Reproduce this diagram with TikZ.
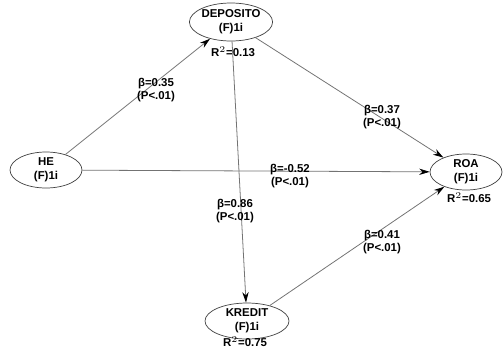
\documentclass[tikz,border=0pt]{standalone}
\usepackage{fontspec}
\setmainfont{Liberation Sans}
\usetikzlibrary{shapes.geometric,arrows.meta}
\tikzset{
  latent/.style={draw=black!75,ellipse,inner sep=0pt,align=center,font=\fontsize{6.5}{8}\selectfont\bfseries},
  path/.style={draw=black!55,line width=0.45pt,-{Stealth[length=6pt,width=3.6pt,black]}},
  coef/.style={align=center,font=\fontsize{6.5}{7.5}\selectfont\bfseries},
  rsq/.style={font=\fontsize{6.5}{7.5}\selectfont\bfseries}
}
\begin{document}
\begin{tikzpicture}[x=0.02cm,y=-0.02cm]
\useasboundingbox (0,0) rectangle (503,349);
\node[latent,minimum width=1.56cm,minimum height=0.76cm](DEP) at(231,22){DEPOSITO\\(F)1i};
\node[latent,minimum width=1.44cm,minimum height=0.72cm](HE) at(46,170){HE\\(F)1i};
\node[latent,minimum width=1.44cm,minimum height=0.72cm](ROA) at(466,172){ROA\\(F)1i};
\node[latent,minimum width=1.68cm,minimum height=0.72cm](KRE) at(247,321){KREDIT\\(F)1i};
\node[rsq](rDEP) at(233,52){R$^2$=0.13};
\node[rsq](rROA) at(469,198){R$^2$=0.65};
\node[rsq](rKRE) at(245,342){R$^2$=0.75};
\draw[path](HE)--(DEP);
\draw[path](DEP)--(ROA);
\draw[path](HE)--(ROA);
\draw[path](DEP)--(KRE);
\draw[path](KRE)--(ROA);
\node[coef](cHD) at(156,90){β=0.35\\(P<.01)};
\node[coef](cDR) at(382,117){β=0.37\\(P<.01)};
\node[coef](cHR) at(290,176){β=-0.52\\(P<.01)};
\node[coef](cDK) at(235,211){β=0.86\\(P<.01)};
\node[coef](cKR) at(382,242){β=0.41\\(P<.01)};
\end{tikzpicture}
\end{document}
